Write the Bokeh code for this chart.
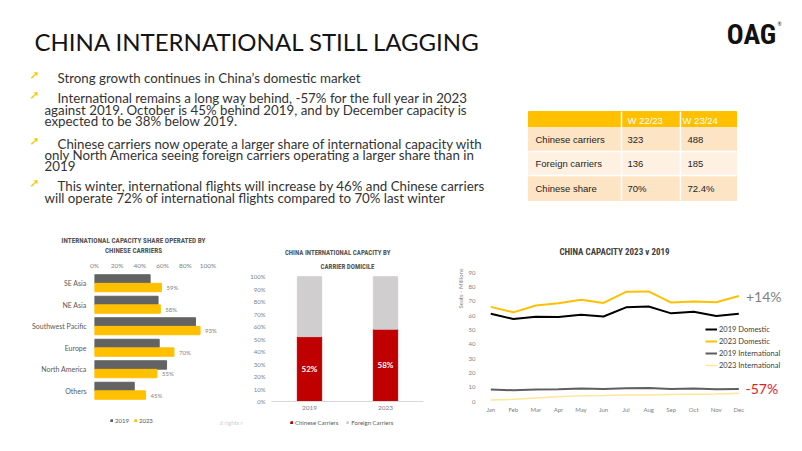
from bokeh.plotting import figure
from bokeh.layouts import column, row
from bokeh.models import (Range1d, FactorRange, ColumnDataSource, Label, LabelSet, Title,
                          Legend, LegendItem, PrintfTickFormatter, FixedTicker)
from bokeh.transform import dodge
from bokeh.core.properties import value
from bokeh.embed import file_html
from bokeh.resources import INLINE

# ---------------- data ----------------
regions = ["SE Asia", "NE Asia", "Southwest Pacific", "Europe", "North America", "Others"]
share_2019 = [49, 56, 89, 57, 63.5, 35]
share_2023 = [59, 58, 93, 70, 55, 45]

domicile_years = ["2019", "2023"]
chinese_carriers = [52, 58]
foreign_carriers = [48, 42]

months = ["Jan", "Feb", "Mar", "Apr", "May", "Jun", "Jul", "Aug", "Sep", "Oct", "Nov", "Dec"]
dom_2019 = [61.2, 57.6, 59.2, 58.9, 60.6, 59.3, 65.7, 66.3, 61.5, 62.6, 59.6, 61.2]
dom_2023 = [66.0, 62.2, 67.0, 68.6, 71.0, 68.8, 76.5, 76.8, 69.0, 69.8, 69.3, 73.6]
intl_2019 = [8.4, 7.8, 8.4, 8.6, 9.0, 8.8, 9.2, 9.4, 8.8, 9.0, 8.6, 8.8]
intl_2023 = [1.1, 1.5, 2.4, 3.3, 4.0, 4.2, 4.6, 4.6, 4.9, 5.1, 5.3, 5.7]

table_cols = ["W 22/23", "W 23/24"]
table_rows = ["Chinese carriers", "Foreign  carriers", "Chinese share"]
table_w2223 = ["323", "136", "70%"]
table_w2324 = ["488", "185", "72.4%"]

bullets = [
    ["Strong growth continues in China\u2019s domestic market"],
    ["International remains a long way behind, -57% for the full year in 2023",
     "against 2019.  October is 45% behind 2019, and by December capacity is",
     "expected to be 38% below 2019."],
    ["Chinese carriers now operate a larger share of international capacity with",
     "only North America seeing foreign carriers operating a larger share than in",
     "2019"],
    ["This winter, international flights will increase by 46% and Chinese carriers",
     "will operate 72% of international flights compared to 70% last winter"],
]

YEL = "#FFC000"
GREY_BAR = "#636363"
RED = "#C00000"
LIGHT = "#D0CECE"
GREY_TXT = "#7F7F7F"
COND = "Roboto Condensed, DejaVu Sans Condensed, Liberation Sans Narrow, Roboto, sans-serif"
BODY_FONT = "Lato"

TOP_H = 258      # top canvas: y 0..258
ROW_H = 157      # charts: y 258..415
BOT_H = 34       # legends strip: y 415..449
FR_T = 13        # common top border of the charts (frame top at 271)
FR_B = 12        # common bottom border of the charts (frame bottom at 403)


def lab(fig, x, y, text, size, color, font=BODY_FONT, style="normal", align="left", angle=0.0):
    fig.add_layout(Label(x=x, y=y, text=text, text_font_size=size, text_color=color,
                         text_font=font, text_font_style=style, text_align=align,
                         text_baseline="middle", angle=angle))


def canvas(h, y0):
    f = figure(width=800, height=h, x_range=Range1d(0, 800), y_range=Range1d(y0 + h, y0),
               output_backend="svg", toolbar_location=None, min_border=0,
               x_axis_type=None, y_axis_type=None, outline_line_color=None)
    return f


# ---------------- top canvas (title, bullets, table, logo, chart titles) ----------------
top = canvas(TOP_H, 0)

top.text(x=[34], y=[41], text=["CHINA INTERNATIONAL STILL LAGGING"],
         text_font=value(BODY_FONT), text_font_size="24px", text_color="#141414",
         text_baseline="middle")

line_y = [[77.3], [97.3, 109.3, 120.3], [143.3, 154.3, 165.7], [185.7, 197.3]]
bx, by, bt = [], [], []
ax_, ay_ = [], []
for lines, ys in zip(bullets, line_y):
    ax_.append(34)
    ay_.append(ys[0] - 3.0)
    for i, (t, yy) in enumerate(zip(lines, ys)):
        bx.append(57 if i == 0 else 44)
        by.append(yy)
        bt.append(t)
top.text(x=bx, y=by, text=bt, text_font=value(BODY_FONT), text_font_size="13.3px",
         text_color="#333333", text_baseline="middle")
top.text(x=ax_, y=ay_, text=["\u279A"] * len(ax_), text_font=value("DejaVu Sans"),
         text_font_style="bold", text_font_size="12px", text_color="#F5C400",
         text_baseline="middle", text_align="center")

# table
top.quad(left=[528], right=[736], top=[111], bottom=[127], color=YEL)
row_tops = [127, 151, 175]
row_bots = [151, 175, 200]
top.quad(left=[528] * 3, right=[736] * 3, top=row_tops, bottom=row_bots,
         color=["#FCE4C4", "#FEF1E2", "#FCE4C4"])
top.segment(x0=[621, 680], y0=[111, 111], x1=[621, 680], y1=[200, 200],
            line_color="white", line_width=1.5)
top.segment(x0=[528] * 2, y0=[151, 175], x1=[736] * 2, y1=[151, 175],
            line_color="white", line_width=1.5)
top.text(x=[627, 682], y=[119.5, 119.5], text=table_cols, text_font=value("Liberation Sans"),
         text_font_size="9.5px", text_color="white", text_baseline="middle")
row_mid = [(a + b) / 2 for a, b in zip(row_tops, row_bots)]
top.text(x=[535] * 3 + [627] * 3 + [687] * 3, y=row_mid * 3,
         text=table_rows + table_w2223 + table_w2324, text_font=value("Liberation Sans"),
         text_font_size="9.5px", text_color="#1E1E1E", text_baseline="middle")

# logo
top.text(x=[751], y=[34], text=["OAG"], text_font=value(COND), text_font_style="bold",
         text_font_size="28px", text_color="#111111", text_baseline="middle", text_align="center")
top.text(x=[777], y=[23], text=["\u00AE"], text_font=value(BODY_FONT),
         text_font_size="5px", text_color="#111111", text_baseline="middle")

# chart titles
top.text(x=[133, 133], y=[239.5, 250], text=["INTERNATIONAL CAPACITY SHARE OPERATED BY", "CHINESE CARRIERS"],
         text_font=value(COND), text_font_style="bold", text_font_size="7.2px", text_color="#555555",
         text_baseline="middle", text_align="center")
top.text(x=[338], y=[252.5], text=["CHINA INTERNATIONAL  CAPACITY BY"],
         text_font=value(COND), text_font_style="bold", text_font_size="6.9px", text_color="#555555",
         text_baseline="middle", text_align="center")
top.text(x=[614], y=[251], text=["CHINA CAPACITY 2023 v 2019"],
         text_font=value(COND), text_font_style="bold", text_font_size="9px", text_color="#404040",
         text_baseline="middle", text_align="center")


def chart(width, x_range, y_range, left, right, **kw):
    return figure(width=width, height=ROW_H, x_range=x_range, y_range=y_range,
                  output_backend="svg", toolbar_location=None,
                  min_border_left=left, min_border_right=right,
                  min_border_top=FR_T, min_border_bottom=FR_B, outline_line_color=None, **kw)


def plain_axis(ax, size, color=GREY_TXT, standoff=4, line=None):
    ax.axis_line_color = line
    ax.major_tick_line_color = None
    ax.minor_tick_line_color = None
    ax.major_tick_out = 0
    ax.major_tick_in = 0
    ax.major_label_text_font = BODY_FONT
    ax.major_label_text_font_size = size
    ax.major_label_text_color = color
    ax.major_label_standoff = standoff


# ---------------- chart A: share by region ----------------
pa = chart(247, Range1d(0, 134.8), FactorRange(factors=regions[::-1]), 94, 0, x_axis_location="above")
srcA = ColumnDataSource(dict(region=regions, s19=share_2019, s23=share_2023,
                             lbl=[f"{v:g}%" for v in share_2023]))
rA1 = pa.hbar(y=dodge("region", 0.2, range=pa.y_range), left=0, right="s19", height=0.39,
              source=srcA, color=GREY_BAR)
rA2 = pa.hbar(y=dodge("region", -0.2, range=pa.y_range), left=0, right="s23", height=0.39,
              source=srcA, color=YEL)
pa.add_layout(LabelSet(x="s23", y=dodge("region", -0.2, range=pa.y_range), text="lbl",
                       x_offset=5, source=srcA, text_font=value(BODY_FONT), text_font_size="6px",
                       text_color=GREY_TXT, text_baseline="middle"))
pa.xaxis.ticker = FixedTicker(ticks=[0, 20, 40, 60, 80, 100])
pa.xaxis.formatter = PrintfTickFormatter(format="%d%%")
plain_axis(pa.xaxis, "6.5px", standoff=4)
plain_axis(pa.yaxis, "7px", color="#595959", standoff=8)
pa.xgrid.visible = False
pa.ygrid.visible = False

# ---------------- chart B: carrier domicile ----------------
pb = chart(193, FactorRange(factors=domicile_years), Range1d(0, 103.4), 23, 17)
srcB = ColumnDataSource(dict(year=domicile_years, chinese=chinese_carriers, foreign=foreign_carriers,
                             mid=[v / 2 for v in chinese_carriers],
                             lbl=[f"{v}%" for v in chinese_carriers]))
rB = pb.vbar_stack(["chinese", "foreign"], x="year", width=0.32, color=[RED, LIGHT], source=srcB)
pb.add_layout(LabelSet(x="year", y="mid", text="lbl", source=srcB, text_font=value(BODY_FONT),
                       text_font_style="bold", text_font_size="8px", text_color="white",
                       text_align="center", text_baseline="middle"))
pb.yaxis.ticker = FixedTicker(ticks=list(range(0, 101, 10)))
pb.yaxis.formatter = PrintfTickFormatter(format="%d%%")
plain_axis(pb.yaxis, "6px", standoff=6)
plain_axis(pb.xaxis, "6.5px", standoff=4, line="#D9D9D9")
pb.xgrid.visible = False
pb.ygrid.visible = False
pb.add_layout(Title(text="CARRIER DOMICILE", align="center", offset=-10, standoff=4,
                    text_font=COND, text_font_style="bold", text_font_size="6.9px",
                    text_color="#555555"), "above")

# ---------------- chart C: capacity lines ----------------
m_idx = list(range(len(months)))
pc = chart(360, Range1d(-0.5, 13.735), Range1d(0, 90), 39, 0)
srcC = ColumnDataSource(dict(m=m_idx, d19=dom_2019, d23=dom_2023, i19=intl_2019, i23=intl_2023))
rc1 = pc.line(x="m", y="d19", source=srcC, line_color="#000000", line_width=2)
rc2 = pc.line(x="m", y="d23", source=srcC, line_color=YEL, line_width=2)
rc3 = pc.line(x="m", y="i19", source=srcC, line_color="#5F5F5F", line_width=2)
rc4 = pc.line(x="m", y="i23", source=srcC, line_color="#FFE699", line_width=1.5)
pc.yaxis.ticker = FixedTicker(ticks=list(range(0, 91, 10)))
pc.xaxis.ticker = FixedTicker(ticks=m_idx)
pc.xaxis.major_label_overrides = {i: m for i, m in zip(m_idx, months)}
plain_axis(pc.xaxis, "6px", standoff=4)
plain_axis(pc.yaxis, "6px", standoff=4)
pc.xgrid.visible = False
pc.ygrid.visible = False
pc.add_layout(Title(text="Seats - Millions", align="right", offset=-4, standoff=3,
                    text_font=BODY_FONT, text_font_style="normal", text_font_size="6px",
                    text_color=GREY_TXT), "left")

C_PX = 132 / 90.0


def c_x(xr):
    return (xr - 490.3) / 22.55


def c_y(yr):
    return (403 - yr) / C_PX


lab(pc, c_x(745.5), c_y(296), "+14%", "14px", "#7F7F7F")
lab(pc, c_x(745), c_y(390), "-57%", "14px", "#E31B23")
legC = Legend(items=[LegendItem(label="2019 Domestic", renderers=[rc1]),
                     LegendItem(label="2023 Domestic", renderers=[rc2]),
                     LegendItem(label="2019 International", renderers=[rc3]),
                     LegendItem(label="2023 International", renderers=[rc4])],
              location=(226, 30), orientation="vertical", padding=0, margin=0, spacing=0,
              glyph_width=12, glyph_height=12, label_height=12, label_width=0, label_standoff=2,
              label_text_font=BODY_FONT, label_text_font_size="7.5px", label_text_color="#404040",
              border_line_color=None, background_fill_alpha=0)
pc.add_layout(legC)

# ---------------- bottom strip: legends of the two left charts ----------------
bot = canvas(BOT_H, 415)
# legend keys only: a single sample each, kept outside the visible x range
key_src = ColumnDataSource(dict(l=[-20], r=[-10], t=[430], b=[434]))
kA19 = bot.quad(left="l", right="r", top="t", bottom="b", source=key_src, color=GREY_BAR)
kA23 = bot.quad(left="l", right="r", top="t", bottom="b", source=key_src, color=YEL)
kB1 = bot.quad(left="l", right="r", top="t", bottom="b", source=key_src, color=RED)
kB2 = bot.quad(left="l", right="r", top="t", bottom="b", source=key_src, color=LIGHT)


def small_legend(items, loc, spacing):
    return Legend(items=items, location=loc, orientation="horizontal", padding=0, margin=0,
                  spacing=spacing, glyph_width=3, glyph_height=3, label_height=8, label_width=0,
                  label_standoff=2,
                  label_text_font=BODY_FONT, label_text_font_size="6px", label_text_color="#595959",
                  border_line_color=None, background_fill_alpha=0)


bot.add_layout(small_legend([LegendItem(label="2019", renderers=[kA19]),
                             LegendItem(label="2023", renderers=[kA23])], (110, 25), 5))
bot.add_layout(small_legend([LegendItem(label="Chinese Carriers", renderers=[kB1]),
                             LegendItem(label="Foreign Carriers", renderers=[kB2])], (290, 23), 8))
bot.text(x=[219], y=[422], text=["d rights r"], text_font=value(BODY_FONT), text_font_size="6px",
         text_color="#D0D0D0", text_baseline="middle")

layout = column(top, row(pa, pb, pc, spacing=0), bot, spacing=0)
open("out.html", "w").write(file_html(layout, INLINE))
